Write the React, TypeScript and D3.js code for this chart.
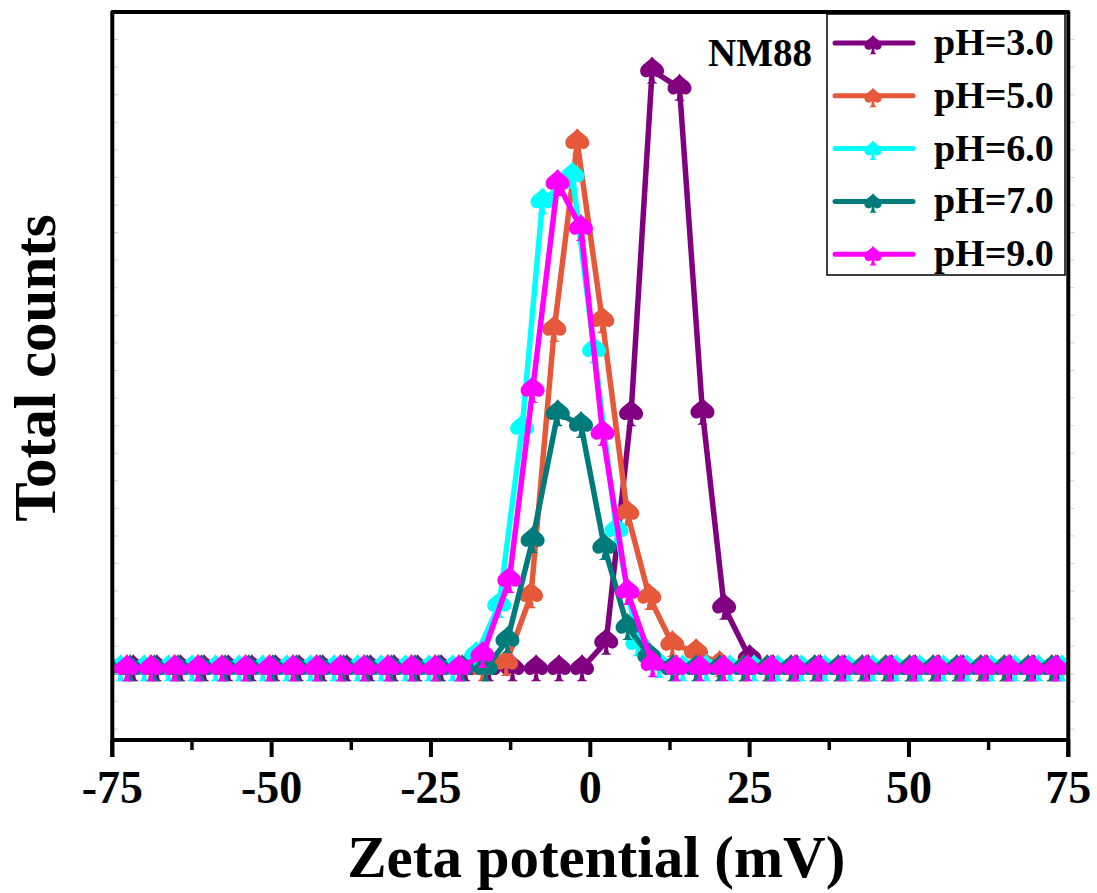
import React from 'react';
import * as d3 from 'd3';

// Zeta potential distributions of NM88 at several pH values (counts in thousands)
const SERIES_NAMES = ['pH=3.0', 'pH=5.0', 'pH=6.0', 'pH=7.0', 'pH=9.0'];
const SERIES_COLORS = ['#800080', '#E5583A', '#00FFFF', '#007B7B', '#FF00FF'];

const ph3X = [-79.1, -75.4, -71.7, -68.0, -64.3, -60.6, -56.8, -53.1, -49.4, -45.7, -42.0, -38.2, -34.5, -30.8, -27.1, -23.4, -19.6, -15.9, -12.2, -8.5, -4.9, -1.3, 2.5, 6.4, 9.7, 14.0, 17.6, 21.0, 25.0, 28.7, 32.4, 36.1, 39.9, 43.6, 47.3, 51.0, 54.7, 58.5, 62.2, 65.9, 69.6, 73.3, 77.1];
const ph3Y = [0, 0, 0, 0, 0, 0, 0, 0, 0, 0, 0, 0, 0, 0, 0, 0, 0, 0, 0, 0, 0, 0, 19.3, 185, 433.6, 421, 186, 44.6, 7.5, 0, 0, 0, 0, 0, 0, 0, 0, 0, 0, 0, 0, 0, 0];

const ph5X = [-80.2, -76.4, -72.7, -69.0, -65.3, -61.6, -57.8, -54.1, -50.4, -46.7, -43.0, -39.2, -35.5, -31.8, -28.1, -24.4, -20.6, -16.9, -13.2, -9.3, -5.65, -2.04, 1.88, 5.8, 9.26, 12.87, 16.6, 20.3, 24.0, 27.7, 31.5, 35.2, 38.9, 42.6, 46.3, 50.1, 53.8, 57.5, 61.2, 64.9, 68.7, 72.4, 76.1];
const ph5Y = [0, 0, 0, 0, 0, 0, 0, 0, 0, 0, 0, 0, 0, 0, 0, 0, 0, 0, 3.9, 53, 246, 381.5, 252.5, 112.6, 51.7, 17.7, 11.8, 3.1, 0, 0, 0, 0, 0, 0, 0, 0, 0, 0, 0, 0, 0, 0, 0];

const ph6X = [-81.1, -77.4, -73.7, -70.0, -66.2, -62.5, -58.8, -55.1, -51.4, -47.6, -43.9, -40.2, -36.5, -32.8, -29.0, -25.3, -21.6, -17.9, -14.3, -10.7, -7.5, -2.8, 0.6, 4.1, 7.4, 10.8, 14.5, 18.2, 21.9, 25.7, 29.4, 33.1, 36.8, 40.5, 44.3, 48.0, 51.7, 55.4, 59.1, 62.9, 66.6, 70.3, 74.0, 77.7];
const ph6Y = [0, 0, 0, 0, 0, 0, 0, 0, 0, 0, 0, 0, 0, 0, 0, 0, 0, 9.6, 45.9, 174.3, 338.5, 357.4, 230.6, 100.1, 18.2, 2.4, 0, 0, 0, 0, 0, 0, 0, 0, 0, 0, 0, 0, 0, 0, 0, 0, 0, 0];

const ph7X = [-79.6, -75.9, -72.2, -68.4, -64.7, -61.0, -57.3, -53.6, -49.8, -46.1, -42.4, -38.7, -35.0, -31.2, -27.5, -23.8, -20.1, -16.4, -13.0, -9.05, -5.1, -1.46, 2.2, 5.85, 9.26, 12.9, 16.6, 20.3, 24.1, 27.8, 31.5, 35.2, 38.9, 42.7, 46.4, 50.1, 53.8, 57.5, 61.3, 65.0, 68.7, 72.4, 76.1];
const ph7Y = [0, 0, 0, 0, 0, 0, 0, 0, 0, 0, 0, 0, 0, 0, 0, 0, 0, 0, 20.5, 93, 185, 176.5, 88, 30, 9, 0, 0, 0, 0, 0, 0, 0, 0, 0, 0, 0, 0, 0, 0, 0, 0, 0, 0];

const ph9X = [-80.1, -76.4, -72.7, -68.9, -65.2, -61.5, -57.8, -54.1, -50.3, -46.6, -42.9, -39.2, -35.5, -31.7, -28.0, -24.3, -20.6, -16.9, -12.7, -9.05, -5.13, -1.46, 1.93, 5.85, 9.78, 13.5, 17.2, 20.9, 24.7, 28.4, 32.1, 35.8, 39.5, 43.3, 47.0, 50.7, 54.4, 58.1, 61.9, 65.6, 69.3, 73.0, 76.7];
const ph9Y = [0, 0, 0, 0, 0, 0, 0, 0, 0, 0, 0, 0, 0, 0, 0, 0, 0, 9.6, 64, 201.8, 352, 319.4, 170.7, 55.3, 3, 0, 0, 0, 0, 0, 0, 0, 0, 0, 0, 0, 0, 0, 0, 0, 0, 0, 0];

const X_TICKS = [-75, -50, -25, 0, 25, 50, 75];
const X_MINOR = [-62.5, -37.5, -12.5, 12.5, 37.5, 62.5];
const Y_TICKS = [-44, -24, -4, 16, 36, 56, 76, 96, 116, 136, 156, 176, 196, 216, 236, 256, 276, 296, 316, 336, 356, 376, 396, 416, 436, 456];

const X_DOMAIN = [-75, 75];
const Y_DOMAIN = [-52, 476];

// Spade-shaped marker, centred on the data point
const SPADE =
  'M0,-14 C3,-9 12,-6 12,0 C12,6 7,8 3,6 L1.6,5 L2.6,11 L5.5,13 L-5.5,13 L-2.6,11 L-1.6,5 L-3,6 C-7,8 -12,6 -12,0 C-12,-6 -3,-9 0,-14 Z';

const FONT = '"Liberation Serif", "Times New Roman", serif';

export default function App() {
  const W = 1097;
  const H = 893;
  const left = 112.3;
  const right = 1068.3;
  const top = 12;
  const bottom = 740;

  const x = d3.scaleLinear().domain(X_DOMAIN).range([left, right]);
  const y = d3.scaleLinear().domain(Y_DOMAIN).range([bottom, top]);

  const xs = [ph3X, ph5X, ph6X, ph7X, ph9X];
  const ys = [ph3Y, ph5Y, ph6Y, ph7Y, ph9Y];
  const series = SERIES_NAMES.map((name, i) => ({
    name,
    color: SERIES_COLORS[i],
    points: xs[i].map((v, j) => [v, ys[i][j]] as [number, number]),
  }));

  const line = d3
    .line<[number, number]>()
    .x((d) => x(d[0]))
    .y((d) => y(d[1]));

  const legendX = 827;
  const legendY = 14;
  const legendW = 238;
  const legendH = 261;
  const rowGap = 52.8;

  return (
    <svg
      width={W}
      height={H}
      style={{ position: 'absolute', left: 0, top: 0, background: '#fff' }}
      fontFamily={FONT}
    >
      <defs>
        <clipPath id="plot-clip">
          <rect x={left} y={0} width={right - left} height={bottom} />
        </clipPath>
      </defs>
      <rect x={0} y={0} width={W} height={H} fill="#fff" />

      {/* series */}
      <g clipPath="url(#plot-clip)">
        {series.map((s) => (
          <g key={s.name}>
            <path
              d={line(s.points) || ''}
              fill="none"
              stroke={s.color}
              strokeWidth={5.5}
              strokeLinejoin="round"
              strokeLinecap="round"
            />
            {s.points.map((p, j) => (
              <path
                key={j}
                d={SPADE}
                transform={`translate(${x(p[0])},${y(p[1])})`}
                fill={s.color}
              />
            ))}
          </g>
        ))}
      </g>

      {/* faint y ticks */}
      {Y_TICKS.map((t) => (
        <g key={t}>
          <line x1={left + 2} x2={left + 6} y1={y(t)} y2={y(t)} stroke="#d0d0d0" strokeWidth={1} />
          <line x1={right + 2} x2={right + 6} y1={y(t)} y2={y(t)} stroke="#d0d0d0" strokeWidth={1} />
        </g>
      ))}

      {/* frame */}
      <path
        d={`M${left},${bottom + 17} L${left},${top} L${right},${top} L${right},${bottom + 17}`}
        fill="none"
        stroke="#000"
        strokeWidth={4}
        strokeLinejoin="round"
      />
      <line x1={left} x2={right} y1={bottom} y2={bottom} stroke="#000" strokeWidth={4} />

      {/* x ticks */}
      {X_TICKS.map((t) => (
        <g key={t}>
          <line x1={x(t)} x2={x(t)} y1={bottom} y2={bottom + 17} stroke="#000" strokeWidth={4} />
          <text
            x={x(t)}
            y={803}
            textAnchor="middle"
            fontSize={46}
            fontWeight="bold"
            fill="#000"
          >
            {t}
          </text>
        </g>
      ))}
      {X_MINOR.map((t) => (
        <line key={t} x1={x(t)} x2={x(t)} y1={bottom} y2={bottom + 10} stroke="#000" strokeWidth={3.5} />
      ))}

      {/* axis titles */}
      <text
        x={(left + right) / 2 + 6}
        y={877}
        textAnchor="middle"
        fontSize={59}
        fontWeight="bold"
        fill="#000"
      >
        Zeta potential (mV)
      </text>
      <text
        transform={`translate(55,${368}) rotate(-90)`}
        textAnchor="middle"
        fontSize={59}
        fontWeight="bold"
        fill="#000"
      >
        Total counts
      </text>

      {/* sample label */}
      <text x={708} y={66} fontSize={39} fontWeight="bold" fill="#000">
        NM88
      </text>

      {/* legend */}
      <rect
        x={legendX}
        y={legendY}
        width={legendW}
        height={legendH}
        fill="#fff"
        stroke="#000"
        strokeWidth={1.5}
      />
      {series.map((s, i) => {
        const cy = 43 + i * rowGap;
        return (
          <g key={s.name}>
            <line
              x1={835}
              x2={913}
              y1={cy}
              y2={cy}
              stroke={s.color}
              strokeWidth={5}
              strokeLinecap="round"
            />
            <path d={SPADE} transform={`translate(873,${cy + 2}) scale(0.72)`} fill={s.color} />
            <text x={934} y={cy + 12} fontSize={38} fontWeight="bold" fill="#000">
              {s.name}
            </text>
          </g>
        );
      })}
    </svg>
  );
}
